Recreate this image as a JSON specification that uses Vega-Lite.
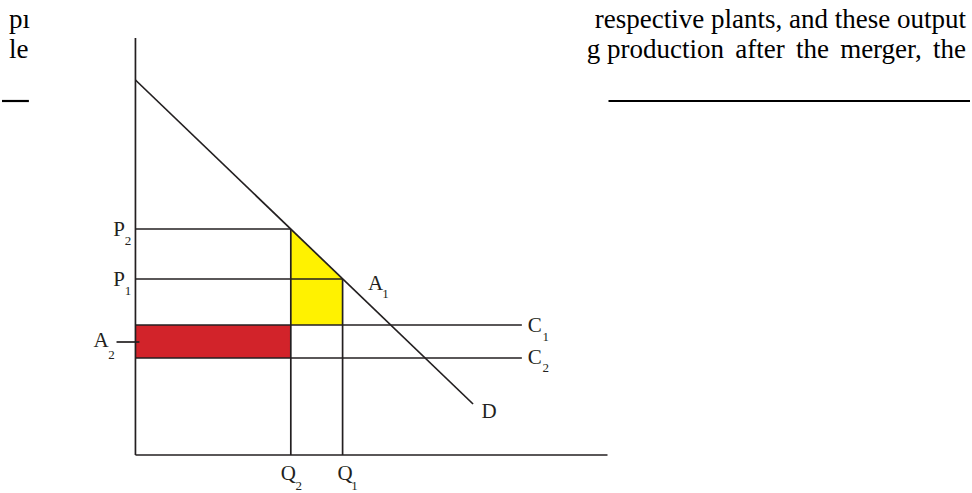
{
  "$schema": "https://vega.github.io/schema/vega-lite/v6.json",
  "width": 972,
  "height": 493,
  "autosize": {"type": "fit", "contains": "padding"},
  "padding": 0,
  "background": "white",
  "config": {"view": {"stroke": null}},
  "datasets": {
    "segs": [
      {"seg": "yaxis", "x": 0, "y": 0, "x2": 0, "y2": 41.7},
      {"seg": "xaxis", "x": 0, "y": 0, "x2": 47.4, "y2": 0},
      {"seg": "D", "x": 0, "y": 37.5, "x2": 33.9, "y2": 5.1},
      {"seg": "P2", "x": 0, "y": 22.6, "x2": 15.6, "y2": 22.6},
      {"seg": "P1", "x": 0, "y": 17.6, "x2": 20.8, "y2": 17.6},
      {"seg": "Q2", "x": 15.6, "y": 0, "x2": 15.6, "y2": 22.6},
      {"seg": "Q1", "x": 20.8, "y": 0, "x2": 20.8, "y2": 17.6},
      {"seg": "C1", "x": 0, "y": 13.0, "x2": 38.8, "y2": 13.0},
      {"seg": "C2", "x": 0, "y": 9.7, "x2": 38.8, "y2": 9.7},
      {"seg": "A2tick", "x": -1.9, "y": 11.3, "x2": 0.4, "y2": 11.3}
    ],
    "pagerules": [
      {"x": -13.4, "x2": -10.7, "y": 35.4},
      {"x": 47.5, "x2": 83.8, "y": 35.4}
    ],
    "yellow": [
      {"x": 15.6, "y": 22.6, "y2": 13.0},
      {"x": 20.8, "y": 17.6, "y2": 13.0}
    ],
    "red": [
      {"x": 0, "x2": 15.6, "y": 9.7, "y2": 13.0}
    ],
    "letters": [
      {"t": "P", "x": -1.65, "y": 22.5},
      {"t": "P", "x": -1.65, "y": 17.5},
      {"t": "A", "x": -3.45, "y": 11.4},
      {"t": "A", "x": 24.1, "y": 17.1},
      {"t": "C", "x": 40.1, "y": 12.9},
      {"t": "C", "x": 40.1, "y": 9.75},
      {"t": "D", "x": 35.5, "y": 4.3},
      {"t": "Q", "x": 15.35, "y": -1.9},
      {"t": "Q", "x": 21.05, "y": -1.9}
    ],
    "subs": [
      {"t": "2", "x": -0.75, "y": 21.4},
      {"t": "1", "x": -0.75, "y": 16.4},
      {"t": "2", "x": -2.4, "y": 10.0},
      {"t": "1", "x": 25.1, "y": 16.1},
      {"t": "1", "x": 41.2, "y": 11.8},
      {"t": "2", "x": 41.2, "y": 8.7},
      {"t": "2", "x": 16.4, "y": -3.1},
      {"t": "1", "x": 22.0, "y": -3.1}
    ],
    "pageleft": [
      {"t": "pı", "x": -12.7, "y": 42.7},
      {"t": "le", "x": -12.7, "y": 39.7}
    ],
    "pageright": [
      {"t": "respective plants, and these output", "x": 83.4, "y": 42.7},
      {"t": "g production\u2004\u200aafter\u2004\u200athe\u2004\u200amerger,\u2004\u200athe", "x": 83.4, "y": 39.7}
    ]
  },
  "layer": [
    {
      "data": {"name": "red"},
      "mark": {"type": "rect", "color": "#d2232a"},
      "encoding": {
        "x": {"field": "x", "type": "quantitative", "scale": {"domain": [-13.4, 83.8], "nice": false, "zero": false}, "axis": null},
        "x2": {"field": "x2"},
        "y": {"field": "y", "type": "quantitative", "scale": {"domain": [-3.8, 45.5], "nice": false, "zero": false}, "axis": null},
        "y2": {"field": "y2"}
      }
    },
    {
      "data": {"name": "yellow"},
      "mark": {"type": "area", "color": "#fff200", "opacity": 1},
      "encoding": {
        "x": {"field": "x", "type": "quantitative"},
        "y": {"field": "y", "type": "quantitative"},
        "y2": {"field": "y2"}
      }
    },
    {
      "data": {"name": "segs"},
      "mark": {"type": "rule", "color": "#231f20", "strokeWidth": 1.7},
      "encoding": {
        "x": {"field": "x", "type": "quantitative"},
        "x2": {"field": "x2"},
        "y": {"field": "y", "type": "quantitative"},
        "y2": {"field": "y2"}
      }
    },
    {
      "data": {"name": "pagerules"},
      "mark": {"type": "rule", "color": "#000000", "strokeWidth": 2.2},
      "encoding": {
        "x": {"field": "x", "type": "quantitative"},
        "x2": {"field": "x2"},
        "y": {"field": "y", "type": "quantitative"}
      }
    },
    {
      "data": {"name": "letters"},
      "mark": {"type": "text", "font": "Liberation Serif", "fontSize": 21, "color": "#231f20", "align": "center", "baseline": "middle"},
      "encoding": {
        "x": {"field": "x", "type": "quantitative"},
        "y": {"field": "y", "type": "quantitative"},
        "text": {"field": "t"}
      }
    },
    {
      "data": {"name": "subs"},
      "mark": {"type": "text", "font": "Liberation Serif", "fontSize": 13, "color": "#231f20", "align": "center", "baseline": "middle"},
      "encoding": {
        "x": {"field": "x", "type": "quantitative"},
        "y": {"field": "y", "type": "quantitative"},
        "text": {"field": "t"}
      }
    },
    {
      "data": {"name": "pageleft"},
      "mark": {"type": "text", "font": "Liberation Serif", "fontSize": 27, "color": "#000000", "align": "left", "baseline": "alphabetic"},
      "encoding": {
        "x": {"field": "x", "type": "quantitative"},
        "y": {"field": "y", "type": "quantitative"},
        "text": {"field": "t"}
      }
    },
    {
      "data": {"name": "pageright"},
      "mark": {"type": "text", "font": "Liberation Serif", "fontSize": 27, "color": "#000000", "align": "right", "baseline": "alphabetic"},
      "encoding": {
        "x": {"field": "x", "type": "quantitative"},
        "y": {"field": "y", "type": "quantitative"},
        "text": {"field": "t"}
      }
    }
  ]
}
